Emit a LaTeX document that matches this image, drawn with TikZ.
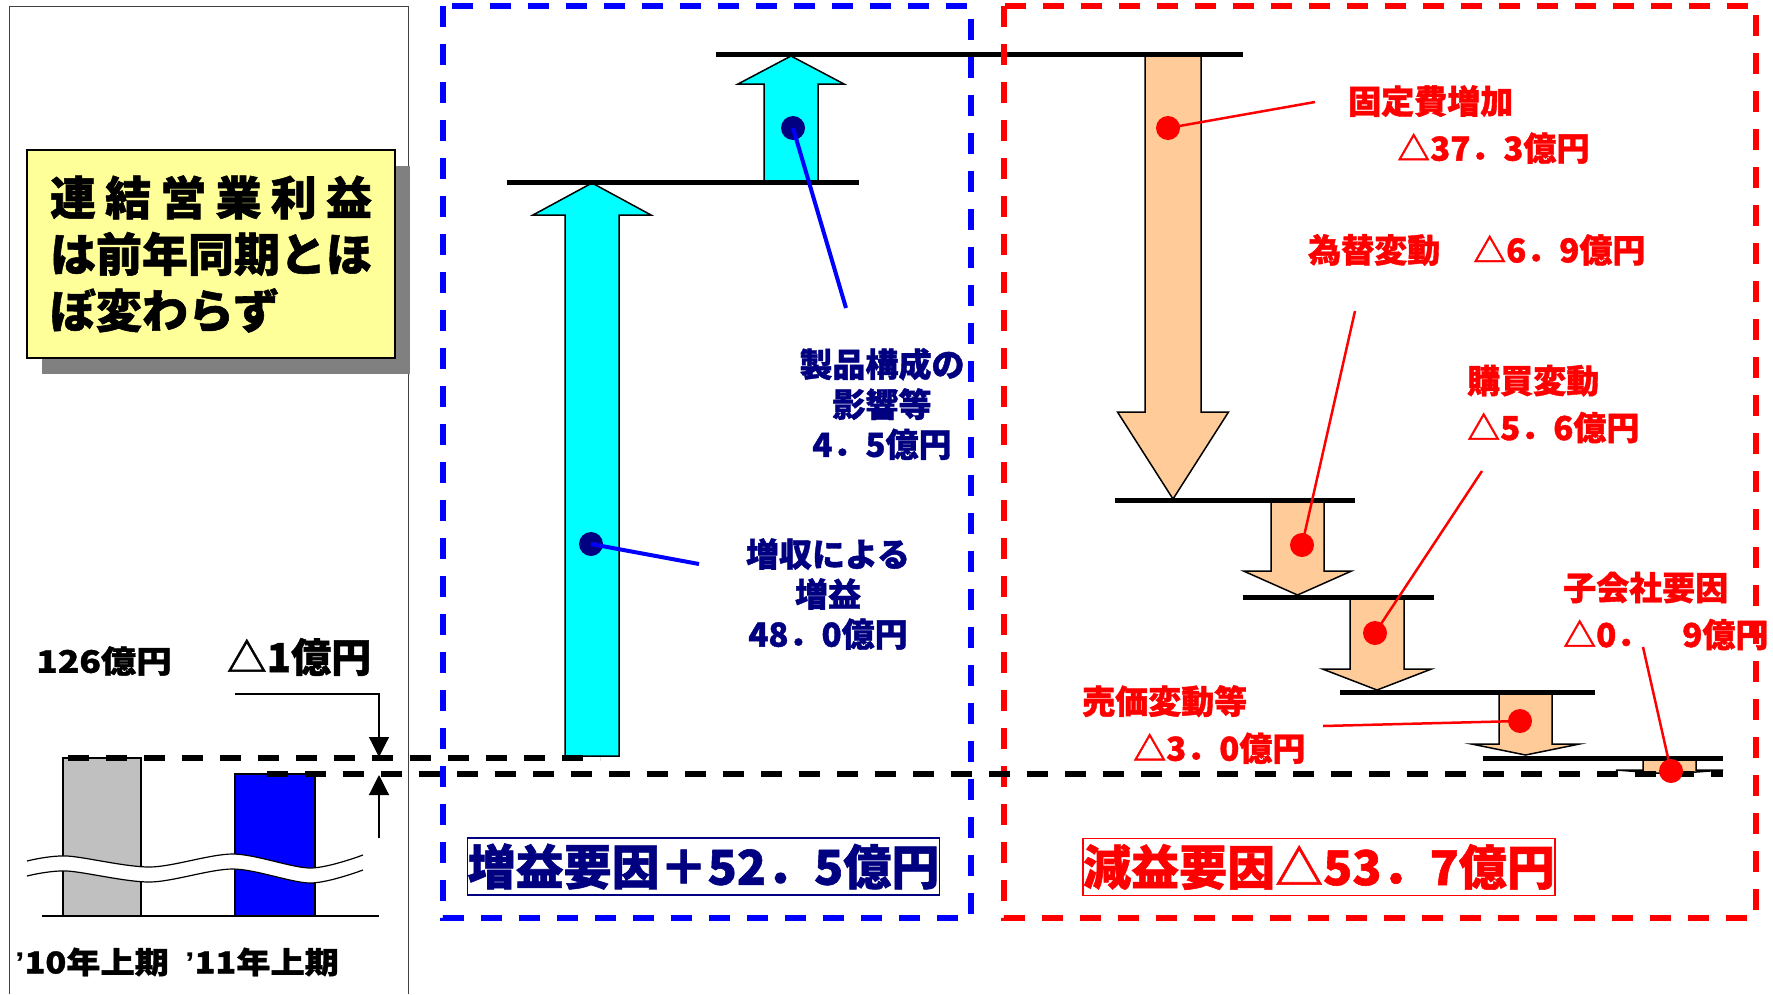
\documentclass[tikz,border=0pt]{standalone}
\usepackage{fontspec}
\setmainfont{Noto Sans CJK JP}[BoldFeatures={FakeBold=1.2}]
\newfontfamily\latinfont{Liberation Sans}
\usepackage{graphicx}
\usepackage{tikz}
\usetikzlibrary{positioning,shadows,arrows.meta}

\definecolor{navy}{RGB}{0,0,128}
\definecolor{gaincyan}{RGB}{0,255,255}
\definecolor{losspeach}{RGB}{255,204,153}
\definecolor{notebg}{RGB}{255,255,153}
\definecolor{bargray}{RGB}{192,192,192}
\definecolor{shadowgray}{RGB}{128,128,128}

% block arrow: style, centre x, tail y, head base y, tip y, half shaft, half head
\newcommand{\blockarr}[7]{%
  \draw[#1] ({#2-#6},#3) -- ({#2-#6},#4) -- ({#2-#7},#4) -- (#2,#5)
    -- ({#2+#7},#4) -- ({#2+#6},#4) -- ({#2+#6},#3) -- cycle;}
% wide setting of the small left labels
\newcommand{\widetxt}[1]{\scalebox{1.14}[1]{#1}}

\begin{document}
\begin{tikzpicture}[x=1pt,y=-1pt,
  level/.style={line width=5pt},
  gain/.style={draw=black,line width=1.5pt,fill=gaincyan},
  loss/.style={draw=black,line width=1.5pt,fill=losspeach},
  bluedash/.style={blue,line width=5.5pt,dash pattern=on 21pt off 17pt},
  reddash/.style={red,line width=5.5pt,dash pattern=on 21pt off 17pt},
  blackdash/.style={black,line width=5.5pt,dash pattern=on 21pt off 17pt},
  bdot/.style={circle,fill=navy,minimum size=24pt,inner sep=0pt},
  rdot/.style={circle,fill=red,minimum size=24pt,inner sep=0pt},
  bleader/.style={blue,line width=4pt},
  rleader/.style={red,line width=2.5pt},
  blabel/.style={text=navy,font=\fontsize{33}{40}\selectfont\bfseries,align=center,inner sep=0pt},
  rlabel/.style={text=red,font=\fontsize{33}{47}\selectfont\bfseries,align=left,inner sep=0pt,anchor=west},
  klabel/.style={font=\fontsize{#1}{#1}\selectfont\bfseries,inner sep=0pt},
  total/.style={draw=#1,text=#1,line width=1.5pt,minimum width=471pt,minimum height=57pt,
    inner sep=0pt,font=\fontsize{48}{48}\selectfont\bfseries},
  note/.style={draw,line width=1.5pt,fill=notebg,minimum width=368pt,minimum height=208pt,
    inner sep=0pt,align=left,font=\fontsize{46}{56.5}\selectfont\bfseries,
    drop shadow={shadow xshift=15pt,shadow yshift=-16pt,fill=shadowgray,opacity=1}},
  gap/.style={-{Triangle[length=20pt,width=20pt]},line width=1.2pt}]
\useasboundingbox (0,0) rectangle (1773,994);

% left panel
\draw[line width=1pt,black!75] (9,994) -- (9,6) -- (408,6) -- (408,994);
\node[note] (summary) at (211,254)
  {\makebox[322pt][s]{連\hfill 結\hfill 営\hfill 業\hfill 利\hfill 益}\\は前年同期とほ\\ぼ変わらず};

% bars
\draw[line width=1.2pt,fill=bargray] (63,758) rectangle (141,916);
\draw[line width=1.2pt,fill=blue] (235,774) rectangle (315,916);
\draw[line width=1.5pt] (42,916) -- (379,916);
\path[fill=white] plot[smooth] coordinates {(27,861) (67,856) (150,867) (233,854) (310,868) (363,855)}
  -- plot[smooth] coordinates {(363,870) (310,883) (233,869) (150,882) (67,871) (27,876)} -- cycle;
\draw[line width=1.2pt] plot[smooth] coordinates {(27,861) (67,856) (150,867) (233,854) (310,868) (363,855)};
\draw[line width=1.2pt] plot[smooth] coordinates {(27,876) (67,871) (150,882) (233,869) (310,883) (363,870)};

\node[klabel=31] (prevval) at (104,661) {\widetxt{126億円}};
\node[klabel=40] (diffval) at (299,657) {△1億円};
\node[klabel=30] (prevlbl) at (92,962) {\widetxt{{\latinfont\bfseries ’}10年上期}};
\node[klabel=30] (currlbl) at (262,962) {\widetxt{{\latinfont\bfseries ’}11年上期}};

\coordinate (gapfrom) at (235,694);
\coordinate (gaptop) at (379,757);
\coordinate (gaplow) at (379,838);
\coordinate (gapbot) at (379,775);
\draw[gap] (gapfrom) -| (gaptop);
\draw[gap] (gaplow) -- (gapbot);

% gain arrows
\blockarr{gain}{592}{756}{215}{183}{27}{59}
\blockarr{gain}{791}{182}{84}{56}{27}{53}
% loss arrows
\blockarr{loss}{1173}{55}{412}{499}{28}{55.5}
\blockarr{loss}{1297.5}{500}{571}{595}{26.5}{54}
\blockarr{loss}{1377}{597}{669}{690}{27}{54.5}
\blockarr{loss}{1525.5}{692}{744}{755}{26.5}{54}
\blockarr{loss}{1669.5}{758}{770}{774}{26.5}{53.5}

% levels
\draw[level] (716,54) -- (1243,54);
\draw[level] (507,182) -- (859,182);
\draw[level] (1115,500) -- (1355,500);
\draw[level] (1243,597) -- (1434,597);
\draw[level] (1340,692) -- (1595,692);
\draw[level] (1483,758) -- (1723,758);

% frames
\draw[bluedash] (443,6) rectangle (971,918);
\draw[reddash] (1004,6) rectangle (1756,918);

\draw[blackdash] (68,758) -- (600,758);
\draw[blackdash] (267,774) -- (1723,774);

% gain labels
\node[bdot] (mixdot) at (793,128) {};
\coordinate (mixend) at (846,308);
\draw[bleader] (mixdot.center) -- (mixend);
\node[blabel] (mixlbl) at (882,404) {製品構成の\\影響等\\4．5億円};

\node[bdot] (salesdot) at (591,544) {};
\coordinate (salesend) at (699,564);
\draw[bleader] (salesdot.center) -- (salesend);
\node[blabel] (saleslbl) at (828,594) {増収による\\増益\\48．0億円};

% loss labels
\node[rdot] (fixdot) at (1168,128) {};
\coordinate (fixend) at (1315,102);
\draw[rleader] (fixdot.center) -- (fixend);
\node[rlabel] (fixlbl) at (1348,124.5) {固定費増加\\\hspace*{49pt}△37．3億円};

\node[rdot] (fxdot) at (1302,545) {};
\coordinate (fxend) at (1355,311);
\draw[rleader] (fxdot.center) -- (fxend);
\node[rlabel] (fxlbl) at (1308,250) {為替変動　△6．9億円};

\node[rdot] (buydot) at (1375,633) {};
\coordinate (buyend) at (1482,471);
\draw[rleader] (buydot.center) -- (buyend);
\node[rlabel] (buylbl) at (1467,404) {購買変動\\△5．6億円};

\node[rdot] (pricedot) at (1520,721) {};
\coordinate (priceend) at (1323,726);
\draw[rleader] (pricedot.center) -- (priceend);
\node[rlabel] (pricelbl) at (1082,724.5) {売価変動等\\\hspace*{51pt}△3．0億円};

\node[rdot] (subdot) at (1671,771) {};
\coordinate (subend) at (1643,647);
\draw[rleader] (subdot.center) -- (subend);
\node[rlabel] (sublbl) at (1563,611) {子会社要因\\△0．　9億円};

% totals
\node[total=navy] (gaintotal) at (703.5,866.5) {増益要因＋52．5億円};
\node[total=red] (losstotal) at (1319,867) {減益要因△53．7億円};
\end{tikzpicture}
\end{document}
